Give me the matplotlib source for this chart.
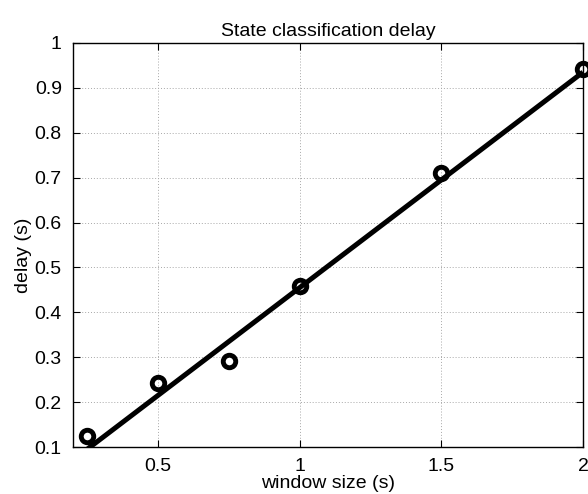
import matplotlib

matplotlib.use("Agg")
import matplotlib.pyplot as plt

plt.rcParams["font.family"] = ["Liberation Sans", "DejaVu Sans"]

# measured delays per window size
window_sizes = [0.25, 0.5, 0.75, 1.0, 1.5, 2.0]
delays = [0.125, 0.243, 0.291, 0.459, 0.710, 0.942]

# linear fit line end points
fit_x = [0.25, 2.0]
fit_y = [0.095, 0.935]

x_ticks = [0.5, 1, 1.5, 2]
x_tick_labels = ["0.5", "1", "1.5", "2"]
y_ticks = [0.1, 0.2, 0.3, 0.4, 0.5, 0.6, 0.7, 0.8, 0.9, 1.0]
y_tick_labels = ["0.1", "0.2", "0.3", "0.4", "0.5", "0.6", "0.7", "0.8", "0.9", "1"]

fig = plt.figure(figsize=(5.88, 4.94), dpi=100)
ax = fig.add_axes([0.124, 0.095, 0.8675, 0.818])

ax.plot(fit_x, fit_y, color="black", linewidth=3.6, solid_capstyle="butt", zorder=3)
ax.plot(window_sizes, delays, linestyle="none", marker="o", markersize=9,
        markerfacecolor="none", markeredgecolor="black", markeredgewidth=3.5, zorder=4,
        clip_on=False)

ax.set_xlim(0.2, 2.0)
ax.set_ylim(0.1, 1.0)
ax.set_xticks(x_ticks)
ax.set_xticklabels(x_tick_labels)
ax.set_yticks(y_ticks)
ax.set_yticklabels(y_tick_labels)
ax.tick_params(direction="in", top=True, right=True, labelsize=14, length=5, width=0.8)
ax.tick_params(axis="x", pad=8)
ax.tick_params(axis="y", pad=8)
ax.grid(True, linestyle=(0, (1, 2)), color="#a8a8a8", linewidth=0.7)
for spine in ax.spines.values():
    spine.set_linewidth(1.0)

ax.set_title("State classification delay", fontsize=14, pad=5)
ax.set_xlabel("window size (s)", fontsize=14)
ax.set_ylabel("delay (s)", fontsize=14)
ax.xaxis.set_label_coords(0.5, -0.069)
ax.yaxis.set_label_coords(-0.081, 0.475)

fig.savefig("out.png", dpi=100)
